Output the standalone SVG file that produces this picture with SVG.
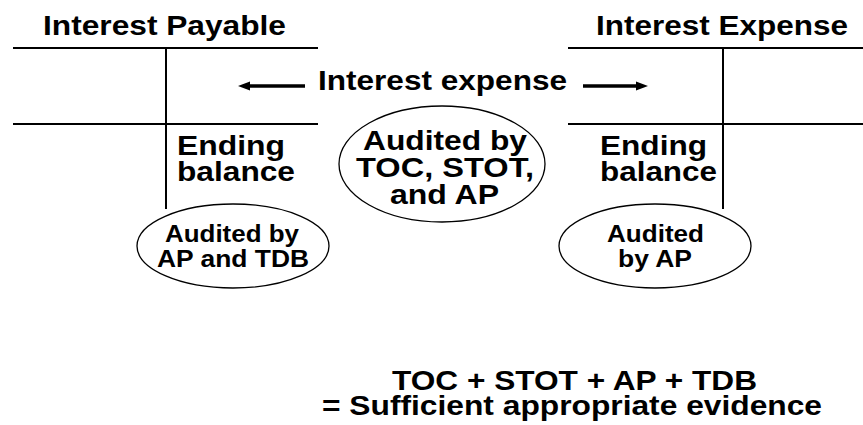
<svg xmlns="http://www.w3.org/2000/svg" width="863" height="425" viewBox="0 0 863 425">
  <style>
    text { font-family: "Liberation Sans", Arial, sans-serif; font-weight: bold; fill: #000; }
    .big { font-size: 28px; }
    .sm { font-size: 23px; }
    .ln { stroke: #000; stroke-width: 2; fill: none; }
    .ell { stroke: #000; stroke-width: 1.3; fill: #fff; }
    .arr { stroke: #000; stroke-width: 3.5; fill: none; }
  </style>
  <defs>
    <marker id="ah" markerWidth="12" markerHeight="10" refX="1" refY="5" orient="auto" markerUnits="userSpaceOnUse">
      <polygon points="0,0.5 12,5 0,9.5" fill="#000"/>
    </marker>
  </defs>
  <rect width="863" height="425" fill="#fff"/>

  <g id="interest-payable">
    <text class="big" x="43" y="35" textLength="243" lengthAdjust="spacingAndGlyphs">Interest Payable</text>
    <line class="ln" x1="13" y1="48" x2="318" y2="48"/>
    <line class="ln" x1="13" y1="124" x2="318" y2="124"/>
    <line class="ln" x1="166" y1="48" x2="166" y2="209"/>
    <text class="big" x="177" y="155" textLength="108" lengthAdjust="spacingAndGlyphs">Ending</text>
    <text class="big" x="177" y="181" textLength="118" lengthAdjust="spacingAndGlyphs">balance</text>
  </g>

  <g id="interest-expense-account">
    <text class="big" x="596" y="35" textLength="252" lengthAdjust="spacingAndGlyphs">Interest Expense</text>
    <line class="ln" x1="568" y1="48" x2="863" y2="48"/>
    <line class="ln" x1="568" y1="124" x2="863" y2="124"/>
    <line class="ln" x1="723" y1="48" x2="723" y2="209"/>
    <text class="big" x="600" y="155" textLength="107" lengthAdjust="spacingAndGlyphs">Ending</text>
    <text class="big" x="600" y="181" textLength="117" lengthAdjust="spacingAndGlyphs">balance</text>
  </g>

  <g id="interest-expense-label">
    <text class="big" x="318" y="90" textLength="249" lengthAdjust="spacingAndGlyphs">Interest expense</text>
  </g>

  <g id="connectors">
    <line class="arr" x1="305" y1="86" x2="249" y2="86" marker-end="url(#ah)"/>
    <line class="arr" x1="583" y1="86" x2="637" y2="86" marker-end="url(#ah)"/>
  </g>

  <g id="center-ellipse">
    <ellipse class="ell" cx="442" cy="164" rx="103" ry="58"/>
    <text class="big" x="363" y="150" textLength="164" lengthAdjust="spacingAndGlyphs">Audited by</text>
    <text class="big" x="356" y="177" textLength="178" lengthAdjust="spacingAndGlyphs">TOC, STOT,</text>
    <text class="big" x="390" y="204" textLength="109" lengthAdjust="spacingAndGlyphs">and AP</text>
  </g>

  <g id="left-ellipse">
    <ellipse class="ell" cx="233" cy="246" rx="96" ry="42"/>
    <text class="sm" x="165" y="242" textLength="134" lengthAdjust="spacingAndGlyphs">Audited by</text>
    <text class="sm" x="157" y="267" textLength="152" lengthAdjust="spacingAndGlyphs">AP and TDB</text>
  </g>

  <g id="right-ellipse">
    <ellipse class="ell" cx="655" cy="246" rx="96" ry="42"/>
    <text class="sm" x="607" y="242" textLength="97" lengthAdjust="spacingAndGlyphs">Audited</text>
    <text class="sm" x="618" y="267" textLength="74" lengthAdjust="spacingAndGlyphs">by AP</text>
  </g>

  <g id="summary">
    <text class="big" x="392" y="390" textLength="365" lengthAdjust="spacingAndGlyphs">TOC + STOT + AP + TDB</text>
    <text class="big" x="322" y="415" textLength="500" lengthAdjust="spacingAndGlyphs">= Sufficient appropriate evidence</text>
  </g>
</svg>
